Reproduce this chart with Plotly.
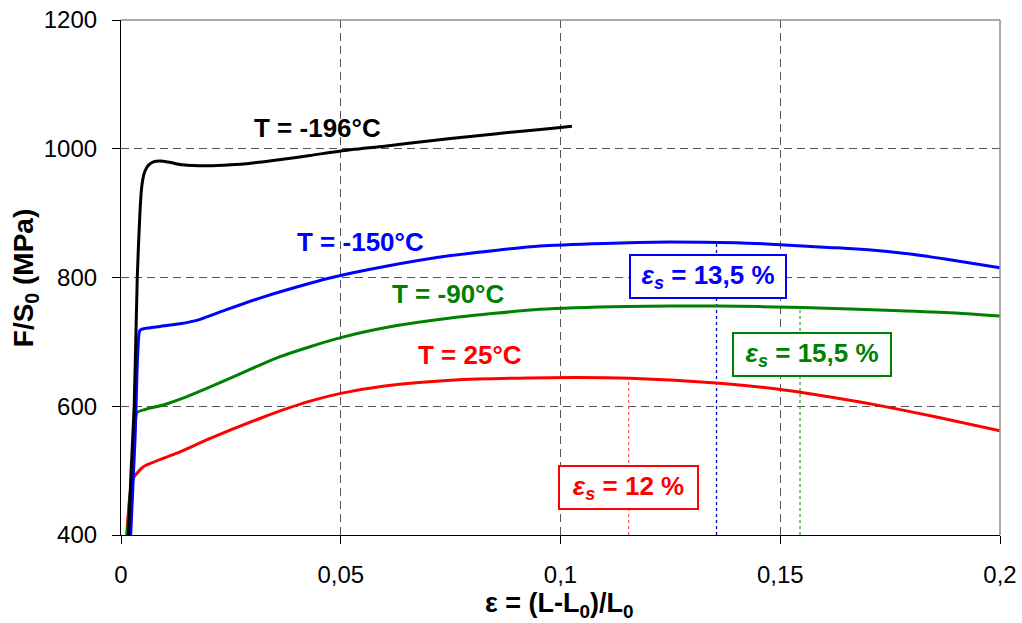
import plotly.graph_objects as go

# ---------------- data ----------------
x_m196 = [0.0017, 0.0023, 0.0030, 0.0037, 0.0043, 0.0047, 0.0052, 0.0058, 0.0065, 0.0075, 0.0089,
          0.011, 0.014, 0.0195, 0.025, 0.030, 0.035, 0.043, 0.050, 0.060, 0.070, 0.080, 0.090, 0.100, 0.1026]
y_m196 = [400, 500, 600, 800, 900, 940, 960, 970, 976, 980, 981,
          979, 975, 973.5, 975, 978, 982, 989.5, 996.5, 1004, 1012, 1019.5, 1026.5, 1033, 1035]

x_m150 = [0.0022, 0.0032, 0.0038, 0.0043, 0.0055, 0.0089, 0.0134, 0.018, 0.024, 0.0316, 0.043, 0.048,
          0.060, 0.075, 0.0953, 0.110, 0.125, 0.140, 0.150, 0.160, 0.170, 0.180, 0.190, 0.200]
y_m150 = [400, 550, 680, 718, 721, 724, 728, 735, 750, 768, 791, 800,
          817, 834, 849, 853, 855, 854, 851, 847, 843, 836, 826, 815]

x_m90 = [0.0014, 0.0025, 0.0032, 0.0036, 0.0055, 0.0096, 0.015, 0.0203, 0.0316, 0.0362, 0.043, 0.0502,
         0.060, 0.075, 0.0953, 0.115, 0.1355, 0.155, 0.1772, 0.190, 0.200]
y_m90 = [400, 500, 570, 590, 595, 602, 615, 630, 664, 677, 692.5, 707,
         722, 737, 750.6, 755, 755.7, 753.5, 748.4, 745, 740]

x_25 = [0.0013, 0.0020, 0.0028, 0.0051, 0.0127, 0.0203, 0.0316, 0.038, 0.043, 0.050, 0.060, 0.075,
        0.0976, 0.1158, 0.1363, 0.150, 0.1644, 0.1727, 0.185, 0.200]
y_25 = [400, 460, 488, 506, 527, 550, 581, 597, 608, 620, 631.5, 640.5,
        644.4, 643.4, 635.6, 626, 611, 601, 584, 562]

# necking strain markers (eps_s) and the stress at which each marker starts
eps_s_vals = [0.1155, 0.1355, 0.1545]
eps_s_top = [643.5, 855, 754.5]
eps_s_labels = ["12", "13,5", "15,5"]

x_ticks = [0, 0.05, 0.1, 0.15, 0.2]
x_ticktext = ["0", "0,05", "0,1", "0,15", "0,2"]
y_ticks = [400, 600, 800, 1000, 1200]

series_names = ["T = -196°C", "T = -150°C", "T = -90°C", "T = 25°C"]
# ---------------------------------------------------------------

BLACK = "#000000"
BLUE = "#0000FF"
GREEN = "#008000"
RED = "#FF0000"
FONT = "Liberation Sans, Arial, sans-serif"

fig = go.Figure()

# dotted vertical markers
marker_styles = [("#FF6060", "dot"), ("#0000CC", "3px,3px"), ("#40A040", "dot")]
for xv, top, (col, dash) in zip(eps_s_vals, eps_s_top, marker_styles):
    fig.add_trace(go.Scatter(x=[xv, xv], y=[400, top], mode="lines",
                             line=dict(color=col, width=1.3, dash=dash),
                             showlegend=False, hoverinfo="skip"))

for xs, ys, col, name in [(x_25, y_25, RED, series_names[3]),
                          (x_m90, y_m90, GREEN, series_names[2]),
                          (x_m150, y_m150, BLUE, series_names[1]),
                          (x_m196, y_m196, BLACK, series_names[0])]:
    fig.add_trace(go.Scatter(x=xs, y=ys, mode="lines", name=name,
                             line=dict(color=col, width=3, shape="spline", smoothing=0.6),
                             showlegend=False))

# curve labels
label_pos = [(0.0447, 1032, BLACK), (0.0546, 855, BLUE), (0.0745, 773.6, GREEN), (0.0795, 679.6, RED)]
for name, (lx, ly, col) in zip(series_names, label_pos):
    fig.add_annotation(x=lx, y=ly, text=f"<b>{name}</b>", showarrow=False,
                       font=dict(family=FONT, size=26, color=col))

# boxed eps_s labels
box_info = [(0.11554, 473.3, RED, 133), (0.13356, 801.6, BLUE, 150), (0.1572, 680.4, GREEN, 152)]
for lab, (bx, by, col, w) in zip(eps_s_labels, box_info):
    fig.add_annotation(x=bx, y=by, showarrow=False,
                       text=f"<b><i>ε<sub>s</sub></i> = {lab} %</b>",
                       font=dict(family=FONT, size=26, color=col),
                       bgcolor="white", bordercolor=col, borderwidth=2, borderpad=2,
                       width=w, height=37)

# axis titles
fig.add_annotation(xref="paper", yref="paper", x=0.4994, y=-0.136, yanchor="middle",
                   text="<b>ε = (L-L<sub>0</sub>)/L<sub>0</sub></b>", showarrow=False,
                   font=dict(family=FONT, size=27, color="black"))
fig.add_annotation(xref="paper", yref="paper", x=-0.109, y=0.499, xanchor="center",
                   text="<b>F/S<sub>0</sub> (MPa)</b>", showarrow=False, textangle=-90,
                   font=dict(family=FONT, size=28, color="black"))

# top and right frame lines (gray)
fig.add_shape(type="line", xref="paper", yref="paper", x0=0, x1=1, y0=1, y1=1,
              line=dict(color="#8C8C8C", width=1.5))
fig.add_shape(type="line", xref="paper", yref="paper", x0=1, x1=1, y0=0, y1=1,
              line=dict(color="#8C8C8C", width=1.5))

fig.update_layout(
    width=1022, height=623,
    margin=dict(l=121, r=22, t=20, b=88, autoexpand=False),
    paper_bgcolor="white", plot_bgcolor="white",
    font=dict(family=FONT, size=24, color="black"),
    xaxis=dict(range=[0, 0.2], tickvals=x_ticks, ticktext=x_ticktext,
               showgrid=True, gridcolor="#555555", griddash="8px,5px", gridwidth=1,
               showline=True, linecolor="black", linewidth=1.2,
               ticks="outside", ticklen=8, tickcolor="black",
               ticklabelstandoff=10, automargin=False, ticklabeloverflow="allow",
               zeroline=False),
    yaxis=dict(range=[400, 1200], tickvals=y_ticks,
               showgrid=True, gridcolor="#555555", griddash="8px,5px", gridwidth=1,
               showline=True, linecolor="black", linewidth=1.2,
               ticks="outside", ticklen=8, tickcolor="black",
               ticklabelstandoff=10, automargin=False, ticklabeloverflow="allow",
               zeroline=False),
)

# remove the default page margin so the figure fills the 1022x623 window exactly
fig.write_html("out.html", config={"displayModeBar": False},
               post_script="document.body.style.margin='0';document.body.style.overflow='hidden';")
